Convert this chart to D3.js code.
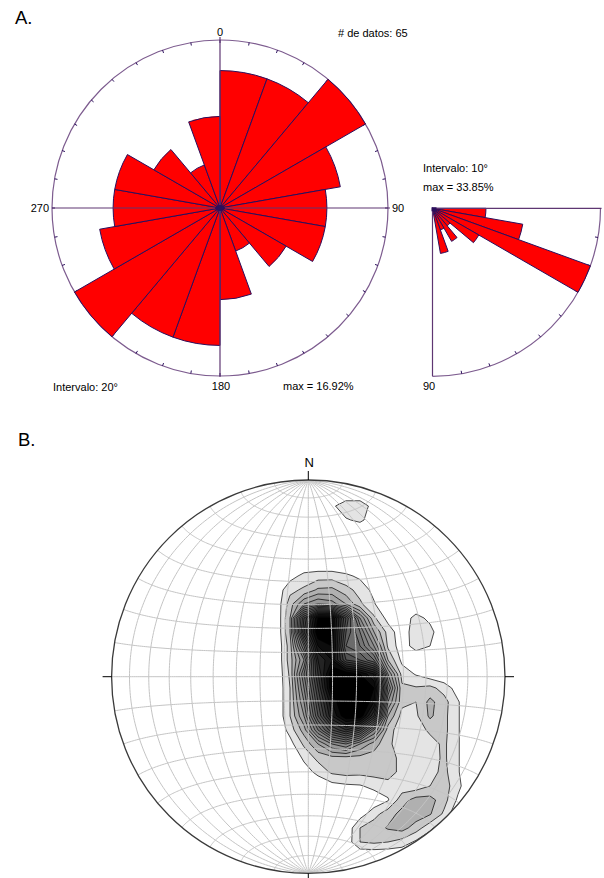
<!DOCTYPE html>
<html>
<head>
<meta charset="utf-8">
<title>rosas y red de Schmidt</title>
<style>
body { margin: 0; background: #fff; }
svg { display: block; font-family: "Liberation Sans", Arial, sans-serif; }
</style>
</head>
<body>
<svg width="604" height="878"></svg>
<script src="https://cdn.jsdelivr.net/npm/d3@7/dist/d3.min.js"></script>
<script>
// --- datos ---
// rumbos, clases de 20 grados
var strikeBins = [0, 20, 40, 60, 80, 100, 120, 140, 160, 180, 200, 220, 240, 260, 280, 300, 320, 340];
var strikeCounts = [9, 9, 11, 8, 7, 7, 5, 3, 6, 9, 9, 11, 8, 7, 7, 5, 3, 6];
// buzamientos, clases de 10 grados
var dipBins = [0, 10, 20, 30, 40, 50, 60, 70, 80];
var dipCounts = [7, 12, 22, 7, 3, 5, 3, 6, 0];
var nDatos = 65;
var roseLabels = [["0", 0], ["90", 90], ["180", 180], ["270", 270]];

// densidad de polos (malla 16 x 28)
var density = [
  [0,0,0,0,0,0,0,0,0,0,0,0,0,0,0,0],
  [0,0,0,0,0,0.8,1.6,1.6,0.6,0,0,0,0,0,0,0],
  [0,0,0,0,0,0,0.9,1.2,0.5,0,0,0,0,0,0,0],
  [0,0,0,0,0,0,0,0,0,0,0,0,0,0,0,0],
  [0,0,0,0,0,0,0,0,0,0,0,0,0,0,0,0],
  [0,0,0,0,0,0,0,0,0,0,0,0,0,0,0,0],
  [0,0,0.6,1.3,1.5,1.5,1.2,0.8,0,0,0,0,0,0,0,0],
  [0,0.3,1.7,2.2,3.2,3.3,2.4,1.6,0.7,0,0,0,0,0,0,0],
  [0,0.2,2.5,5,6,5.5,4,2.2,1.1,0,0,0,0,0,0,0],
  [0,0,3,12,18,18,12,6,2.2,0.6,0.3,1.4,0.7,0,0,0],
  [0,0,3,13,19,18,11,8,4,1.6,0.3,1.7,1.4,0,0,0],
  [0,0,2.5,9,17,18,10,9,6,1.8,0.4,1.5,1.0,0,0,0],
  [0,0,2.5,6,15,17,12,11,9,3,0.7,0,0,0,0,0],
  [0,0,2.2,8,14,19,19,18,16,6,1.6,0.9,0.3,0,0,0],
  [0,0,2,7,13,19,20,20,18,8,2.2,2.1,2.3,1.6,0.5,0],
  [0,0,2,6,12,17,20,20,17,6,2.3,2.0,3.3,2.4,1.1,0],
  [0,0,2,5,11,16,19,19,14,4,1.6,1.8,3.2,2.3,1.1,0],
  [0,0,1.4,3.5,8,12,14,12,7,2.5,1.3,1.5,2.2,2.3,1.1,0],
  [0,0,0.6,2.2,4,6,7,5,3.5,2.2,1.5,1.2,1.6,2.2,1.1,0],
  [0,0,0,1.2,2.3,2.6,2.6,2.6,2.5,2.3,1.8,1.3,1.5,2.2,1.1,0],
  [0,0,0,0.5,1.3,2.2,2.4,2.3,2.4,2.6,1.6,1.2,1.6,2.3,1.1,0],
  [0,0,0,0,0.2,0.6,0.8,0.9,1.3,1.5,1.4,1.4,2.0,2.5,1.3,0],
  [0,0,0,0,0,0,0,0.3,0.3,0.9,2.6,3.4,3.4,2.4,0.8,0],
  [0,0,0,0,0,0,0,0.5,1.6,2.6,3.3,3.6,3.1,1.8,0,0],
  [0,0,0,0,0,0,0.2,2.0,2.6,3.1,3.4,2.5,1.3,0,0,0],
  [0,0,0,0,0,0,0.3,2.0,2.2,2.0,1.6,0.8,0,0,0,0],
  [0,0,0,0,0,0,0,0,0,0,0,0,0,0,0,0],
  [0,0,0,0,0,0,0,0,0,0,0,0,0,0,0,0]
];
var levels = d3.range(1, 21);

var svg = d3.select("svg");
var rad = Math.PI / 180;
var pct = d3.format(".2f");
var petalFill = "#ff0000", petalLine = "#2b0f5c";
var ringColor = "#7d5c8f", axisColor = "#5e3672";

// ---------- A. rosa de rumbos ----------
var R = 168;
var rose = svg.append("g").attr("transform", "translate(220,208)");
var r = d3.scaleLinear().domain([0, d3.max(strikeCounts)]).range([0, R]);
var arc = d3.arc().innerRadius(0);

rose.append("circle").attr("r", R).attr("fill", "none").attr("stroke", ringColor).attr("stroke-width", 1.2);
rose.selectAll("line.tick").data(d3.range(0, 360, 10)).enter().append("line")
    .attr("x1", d => (R - 3) * Math.sin(d * rad)).attr("y1", d => -(R - 3) * Math.cos(d * rad))
    .attr("x2", d => R * Math.sin(d * rad)).attr("y2", d => -R * Math.cos(d * rad))
    .attr("stroke", petalLine).attr("stroke-width", 1);

rose.selectAll("path.petal").data(strikeBins).enter().append("path")
    .attr("class", "petal")
    .attr("d", (b, i) => arc({outerRadius: r(strikeCounts[i]), startAngle: b * rad, endAngle: (b + 20) * rad}))
    .attr("fill", petalFill).attr("stroke", petalLine).attr("stroke-width", 1).attr("stroke-linejoin", "round");

rose.append("line").attr("x1", 0).attr("x2", 0).attr("y1", -R - 3).attr("y2", R + 1)
    .attr("stroke", axisColor).attr("stroke-width", 1.2);
rose.append("line").attr("x1", -R).attr("x2", R + 2).attr("y1", 0).attr("y2", 0)
    .attr("stroke", axisColor).attr("stroke-width", 1.2);
rose.append("ellipse").attr("rx", 5).attr("ry", 3).attr("fill", petalLine);

var lab = {"0": [0, -172, "middle"], "90": [172, 4, "start"], "180": [1, 182, "middle"], "270": [-171, 4, "end"]};
rose.selectAll("text.ax").data(roseLabels).enter().append("text")
    .attr("x", d => lab[d[0]][0]).attr("y", d => lab[d[0]][1]).attr("text-anchor", d => lab[d[0]][2])
    .attr("font-size", 11).text(d => d[0]);

svg.append("text").attr("x", 15).attr("y", 23.5).attr("font-size", 18.5).text("A.");
svg.append("text").attr("x", 338).attr("y", 36.5).attr("font-size", 11).text("# de datos: " + nDatos);
svg.append("text").attr("x", 53).attr("y", 391).attr("font-size", 11).text("Intervalo: 20\u00b0");
svg.append("text").attr("x", 283).attr("y", 390).attr("font-size", 11)
    .text("max = " + pct(100 * d3.max(strikeCounts) / nDatos) + "%");

// ---------- rosa de buzamientos (cuadrante) ----------
var q = svg.append("g").attr("transform", "translate(432.5,208.3)");
var rq = d3.scaleLinear().domain([0, d3.max(dipCounts)]).range([0, R]);
var qp = d3.path();
qp.moveTo(R, 0);
qp.arc(0, 0, R, 0, Math.PI / 2);
q.append("path").attr("d", qp.toString()).attr("fill", "none").attr("stroke", ringColor).attr("stroke-width", 1.2);
q.selectAll("line.tick").data(d3.range(10, 90, 10)).enter().append("line")
    .attr("x1", d => (R - 3) * Math.cos(d * rad)).attr("y1", d => (R - 3) * Math.sin(d * rad))
    .attr("x2", d => R * Math.cos(d * rad)).attr("y2", d => R * Math.sin(d * rad))
    .attr("stroke", petalLine).attr("stroke-width", 1);
q.selectAll("path.petal").data(dipBins).enter().append("path")
    .attr("d", (b, i) => arc({outerRadius: rq(dipCounts[i]), startAngle: (90 + b) * rad, endAngle: (100 + b) * rad}))
    .attr("fill", petalFill).attr("stroke", petalLine).attr("stroke-width", 1).attr("stroke-linejoin", "round");
q.append("line").attr("x1", 0).attr("x2", R + 1).attr("y1", 0).attr("y2", 0).attr("stroke", axisColor).attr("stroke-width", 1.2);
q.append("line").attr("x1", 0).attr("x2", 0).attr("y1", 0).attr("y2", R).attr("stroke", axisColor).attr("stroke-width", 1.2);
q.append("rect").attr("x", -1).attr("y", -1).attr("width", 5).attr("height", 4).attr("fill", petalLine);

svg.append("text").attr("x", 423).attr("y", 171.5).attr("font-size", 11).text("Intervalo: 10\u00b0");
svg.append("text").attr("x", 423).attr("y", 191).attr("font-size", 11)
    .text("max = " + pct(100 * d3.max(dipCounts) / nDatos) + "%");
svg.append("text").attr("x", 423).attr("y", 390).attr("font-size", 11).text("90");

// ---------- B. red de Schmidt con contornos ----------
var cx = 308.3, cy = 676.7, NR = 196.7;
var proj = d3.geoAzimuthalEqualArea().rotate([0, 0]).clipAngle(90)
    .scale(NR / Math.SQRT2).translate([cx, cy]).precision(0.1);
var geo = d3.geoPath(proj);

svg.append("defs").append("clipPath").attr("id", "net")
  .append("circle").attr("cx", cx).attr("cy", cy).attr("r", NR);

var net = svg.append("g").attr("clip-path", "url(#net)");

var nx = density[0].length, ny = density.length;
var cells = [].concat.apply([], density);
var bands = d3.contours().size([nx, ny]).thresholds(levels)(cells);
var grid = d3.geoPath(d3.geoIdentity().scale(14).translate([262 - 7, 492 - 7]));
var gray = d3.scaleLinear().domain([1, 2, 3, 6, 10, 14, 18])
    .range(["#e4e4e4", "#c8c8c8", "#b0b0b0", "#8c8c8c", "#606060", "#303030", "#000000"]).clamp(true);

net.selectAll("path.band").data(bands).enter().append("path")
    .attr("d", grid).attr("fill", d => gray(d.value))
    .attr("stroke", "#000").attr("stroke-width", 0.7).attr("stroke-linejoin", "round");

var step = 10;
var lines = [];
d3.range(-90 + step, 90, step).forEach(function(lon) {
  lines.push({type: "LineString", coordinates: d3.range(-90, 90.5, 1).map(lat => [lon, lat])});
});
d3.range(-90 + step, 90, step).forEach(function(lat) {
  lines.push({type: "LineString", coordinates: d3.range(-89.9, 90, 1).concat([89.9]).map(lon => [lon, lat])});
});
net.selectAll("path.grat").data(lines).enter().append("path")
    .attr("d", geo).attr("fill", "none").attr("stroke", "#c4c4c4").attr("stroke-width", 1);

svg.append("circle").attr("cx", cx).attr("cy", cy).attr("r", NR)
    .attr("fill", "none").attr("stroke", "#3a3a3a").attr("stroke-width", 1.3);

var tk = 9;
[[cx - NR - tk, cy, cx - NR, cy], [cx + NR, cy, cx + NR + tk, cy],
 [cx, cy - NR - tk, cx, cy - NR], [cx, cy + NR, cx, cy + NR + tk]].forEach(function(s) {
  svg.append("line").attr("x1", s[0]).attr("y1", s[1]).attr("x2", s[2]).attr("y2", s[3])
      .attr("stroke", "#000").attr("stroke-width", 1);
});

svg.append("text").attr("x", cx + 1).attr("y", cy - NR - 13).attr("text-anchor", "middle")
    .attr("font-size", 13).text("N");
svg.append("text").attr("x", 18).attr("y", 446).attr("font-size", 18.5).text("B.");
</script>
</body>
</html>
